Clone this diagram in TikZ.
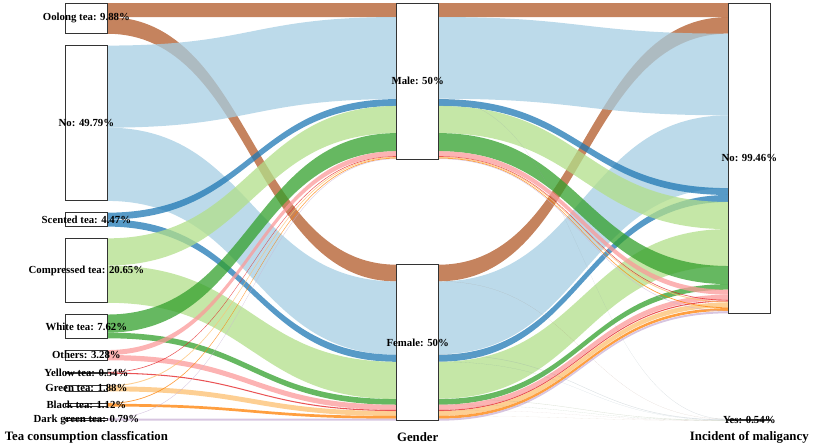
\documentclass[tikz,border=0pt]{standalone}
\usepackage{fontspec}
\setmainfont{Liberation Serif}
\usepackage{tikz}
\definecolor{cOolong}{HTML}{B15928}
\definecolor{cNo}{HTML}{A6CEE3}
\definecolor{cScented}{HTML}{1F78B4}
\definecolor{cCompressed}{HTML}{B2DF8A}
\definecolor{cWhite}{HTML}{33A02C}
\definecolor{cOthers}{HTML}{FB9A99}
\definecolor{cYellow}{HTML}{E31A1C}
\definecolor{cGreen}{HTML}{FDBF6F}
\definecolor{cBlack}{HTML}{FF7F00}
\definecolor{cDarkGreen}{HTML}{CAB2D6}
\tikzset{stratum/.style={draw=black!80,fill=white,line width=0.9pt,inner sep=0pt,minimum width=41.8pt},
  stratumlabel/.style={font=\fontsize{10.8}{12}\selectfont\bfseries,inner sep=0pt},
  axistitle/.style={font=\fontsize{12.8}{14}\selectfont\bfseries,inner sep=0pt},
  flow/.style={fill=#1,fill opacity=0.75},
  yesflow/.style={fill=#1!40!gray,fill opacity=0.3}}

\begin{document}
\begin{tikzpicture}[x=1pt,y=-1pt]
    \useasboundingbox (0,0) rectangle (813,447);

    % tea -> gender
    \foreach \ya/\yb/\yc/\yd/\col in {3.00/17.04/3.00/17.04/cOolong,17.04/33.76/264.70/281.42/cOolong,
        45.57/127.63/17.04/99.10/cNo,127.63/200.92/281.42/354.71/cNo,
        212.66/219.52/99.10/105.96/cScented,219.52/226.61/354.71/361.79/cScented,
        238.35/265.49/105.96/133.10/cCompressed,265.49/302.78/361.79/399.07/cCompressed,
        314.52/332.62/133.10/151.20/cWhite,332.62/338.30/399.07/404.75/cWhite,
        350.03/355.02/151.20/156.19/cOthers,355.02/360.26/404.75/409.99/cOthers,
        372.00/372.62/156.19/156.81/cYellow,372.62/373.68/409.99/411.05/cYellow,
        385.42/386.36/156.81/157.75/cGreen,386.36/391.29/411.05/415.98/cGreen,
        403.03/403.81/157.75/158.53/cBlack,403.81/406.52/415.98/418.69/cBlack,
        418.26/418.73/158.53/159.00/cDarkGreen,418.73/420.72/418.69/420.69/cDarkGreen} {
      \fill[flow=\col] (107.3,\ya) .. controls (252,\ya) and (252,\yc) .. (396.8,\yc)
        -- (396.8,\yd) .. controls (252,\yd) and (252,\yb) .. (107.3,\yb) -- cycle;
    }

    % gender -> incident (no)
    \foreach \ya/\yb/\yc/\yd/\col in {3.00/17.04/3.00/17.04/cOolong,264.70/281.30/17.04/33.64/cOolong,
        17.04/98.72/33.64/115.32/cNo,281.42/354.21/115.32/188.11/cNo,
        99.10/105.96/188.11/194.97/cScented,354.71/361.70/194.97/201.96/cScented,
        105.96/133.10/201.96/229.10/cCompressed,361.79/398.70/229.10/266.01/cCompressed,
        133.10/151.20/266.01/284.11/cWhite,399.07/404.65/284.11/289.69/cWhite,
        151.20/156.19/289.69/294.68/cOthers,404.75/409.93/294.68/299.86/cOthers,
        156.19/156.81/299.86/300.48/cYellow,409.99/411.05/300.48/301.54/cYellow,
        156.81/157.75/301.54/302.48/cGreen,411.05/415.92/302.48/307.35/cGreen,
        157.75/158.53/307.35/308.13/cBlack,415.98/418.69/308.13/310.84/cBlack,
        158.53/159.00/310.84/311.31/cDarkGreen,418.69/420.69/311.31/313.31/cDarkGreen} {
      \fill[flow=\col] (438.6,\ya) .. controls (583.5,\ya) and (583.5,\yc) .. (728.4,\yc)
        -- (728.4,\yd) .. controls (583.5,\yd) and (583.5,\yb) .. (438.6,\yb) -- cycle;
    }

    % gender -> incident (yes)
    \foreach \ya/\yb/\yc/\yd/\col in {281.30/281.42/419.02/419.14/cOolong,98.72/99.10/419.14/419.52/cNo,
        354.21/354.71/419.52/420.02/cNo,361.70/361.79/420.02/420.11/cScented,
        398.70/399.07/420.11/420.48/cCompressed,404.65/404.75/420.48/420.57/cWhite,
        409.93/409.99/420.57/420.63/cOthers,415.92/415.98/420.63/420.69/cGreen} {
      \fill[yesflow=\col] (438.6,\ya) .. controls (583.5,\ya) and (583.5,\yc) .. (728.4,\yc)
        -- (728.4,\yd) .. controls (583.5,\yd) and (583.5,\yb) .. (438.6,\yb) -- cycle;
    }

    \foreach \name/\xc/\yc/\h/\txt in {oolong/86.4/18.42/30.83/Oolong tea: 9.88\%,
        notea/86.4/123.25/155.35/No: 49.79\%,
        scented/86.4/219.64/13.95/Scented tea: 4.47\%,
        compressed/86.4/270.57/64.43/Compressed tea: 20.65\%,
        whitetea/86.4/326.41/23.77/White tea: 7.62\%,
        others/86.4/355.15/10.23/Others: 3.28\%,
        yellowtea/86.4/372.84/1.68/Yellow tea: 0.54\%,
        greentea/86.4/388.36/5.87/Green tea: 1.88\%,
        blacktea/86.4/404.78/3.49/Black tea: 1.12\%,
        darkgreen/86.4/419.49/2.46/Dark green tea: 0.79\%,
        male/417.7/81.00/156/Male: 50\%,
        female/417.7/342.70/156/Female: 50\%,
        incno/749.3/158.16/310.32/No: 99.46\%,
        incyes/749.3/419.86/1.68/Yes: 0.54\%} {
      \node[stratum,minimum height=\h pt] (\name) at (\xc,\yc) {};
      \node[stratumlabel] (\name-lab) at (\name) {\txt};
    }

    \node[axistitle] (axtea) at (86.4,437) {Tea consumption classfication};
    \node[axistitle] (axgender) at (417.7,437) {Gender};
    \node[axistitle] (axinc) at (749.3,437) {Incident of maligancy};
  \end{tikzpicture}
\end{document}
